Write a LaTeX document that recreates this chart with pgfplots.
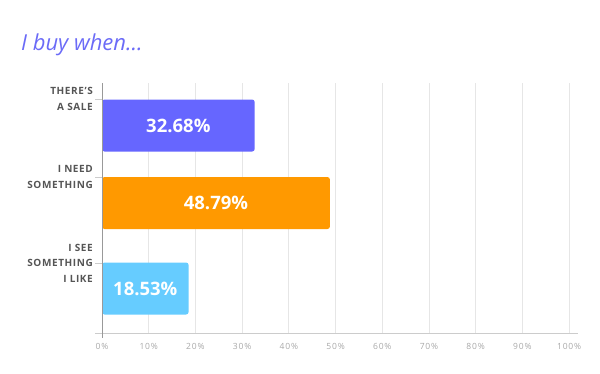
\documentclass[border=0pt]{standalone}
\usepackage{pgfplots}
\pgfplotsset{compat=1.18}
\usepackage{fontspec}
\setmainfont{Open Sans}
\newfontfamily\labfont[LetterSpace=6.0]{Open Sans}
\newfontfamily\tickfont[LetterSpace=10.0]{Open Sans}
\definecolor{cpurple}{HTML}{6666FF}
\definecolor{corange}{HTML}{FF9900}
\definecolor{cblue}{HTML}{66CCFF}
\definecolor{ctitle}{HTML}{6B6BF7}
\definecolor{gridgray}{HTML}{E6E6E6}
\definecolor{basegray}{HTML}{CCCCCC}
\definecolor{zerogray}{HTML}{999999}
\definecolor{tickgray}{HTML}{A8A8A8}
\definecolor{labgray}{HTML}{555555}
\begin{document}
\begin{tikzpicture}[x=1pt,y=1pt]
\useasboundingbox (0,0) rectangle (600,-373);
\node[anchor=base west, font=\fontsize{22}{26}\selectfont\itshape, text=ctitle, inner sep=0pt] at (21,-50) {I buy when...};
\begin{axis}[
  at={(95pt,-333pt)}, anchor=south west,
  scale only axis, width=483pt, height=250pt,
  xmin=-1.5, xmax=101.9, ymin=83, ymax=333, y dir=reverse,
  axis line style={draw=none},
  clip=false,
  xbar, bar width=52, bar shift=0pt,
  xtick={0,10,...,100}, xmajorgrids,
  grid style={color=gridgray, line width=0.8pt},
  xtick style={draw=none},
  /pgf/number format/assume math mode=true,
  xticklabel={\pgfmathprintnumber{\tick}\%},
  xticklabel style={font=\tickfont\fontsize{8.5}{10}\selectfont, text=tickgray, yshift=-7pt},
  ytick={99,177,263},
  yticklabels={{THERE’S\\A SALE},{I NEED\\SOMETHING},{I SEE\\SOMETHING\\I LIKE}},
  ytick pos=left, tick align=inside, major tick length=7pt,
  ytick style={color=basegray, line width=0.8pt},
  yticklabel style={align=right, font=\labfont\bfseries\fontsize{10}{15.5}\selectfont, text=labgray, inner sep=1pt, xshift=-1pt},
  point meta=rawx,
  visualization depends on={rawx \as \rawxv},
  nodes near coords={\pgfmathprintnumber[fixed,fixed zerofill,precision=2]{\pgfplotspointmeta}\%},
  every node near coord/.append style={anchor=center, text=white, font=\bfseries\fontsize{18.5}{22}\selectfont, shift={(axis direction cs:-\rawxv/2,0)}},
]
\addplot[fill=cpurple, draw=none, rounded corners=2.5pt] coordinates {(32.68,125.5)};
\addplot[fill=corange, draw=none, rounded corners=2.5pt] coordinates {(48.79,203)};
\addplot[fill=cblue, draw=none, rounded corners=2.5pt] coordinates {(18.53,288.5)};
\draw[basegray, line width=0.9pt] (axis cs:-1.5,333) -- (axis cs:101.9,333);
\draw[zerogray, line width=0.9pt] (axis cs:0,83) -- (axis cs:0,338);
\end{axis}
\end{tikzpicture}
\end{document}
